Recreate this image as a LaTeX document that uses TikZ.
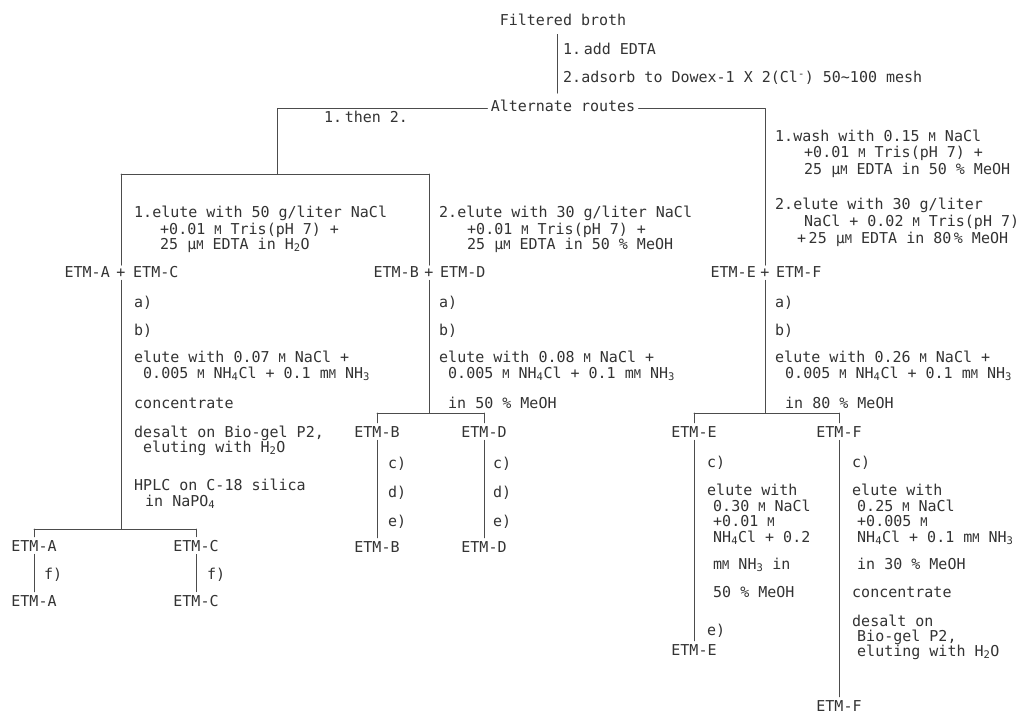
\documentclass[tikz,border=0pt]{standalone}
\usepackage{fontspec}
\newfontfamily\typew{DejaVu Sans Mono}
\newcommand\sM{{\fontsize{12}{12}\selectfont M}}
\begin{document}
\begin{tikzpicture}[x=1pt,y=-1pt,line join=round,line cap=round,
		txt/.style={anchor=base west,inner sep=0pt,yshift=-5pt,text=black!80,font=\typew\fontsize{15}{17}\selectfont},
		rgt/.style={txt,anchor=base east},
		lbl/.style={txt,anchor=base,inner sep=3pt},
		br/.style={draw=black!70,line width=0.7pt}]
	\useasboundingbox (0,0) rectangle (1022,714);
	\fill[white] (0,0) rectangle (1022,714);
	% top: broth and the two routes
	\node[lbl] (broth) at (563,21) {Filtered broth};
	\node[txt] (add1) at (563,50) {1.\,add EDTA};
	\node[txt] (add2) at (563,78) {2.adsorb to Dowex-1 X 2(Cl\textsuperscript{-}) 50\textasciitilde 100 mesh};
	\node[lbl] (routes) at (563,107) {Alternate routes};
	\node[txt] (then) at (324,118) {1.\,then 2.};
	\coordinate (cL) at (277,108); \coordinate (cR) at (765,108); \coordinate (jT) at (277,174);
	\coordinate (jL) at (121,174); \coordinate (jM) at (429,174);
	% left column (elution 1)
	\node[txt] (l1) at (134,213) {1.elute with 50 g/liter NaCl};
	\node[txt] (l2) at (160,229) {+0.01 \sM{} Tris(pH 7) +};
	\node[txt] (l3) at (160,244) {25 μ\sM{} EDTA in H\textsubscript{2}O};
	\node[rgt] (etmA0) at (110,272) {ETM-A};
	\node[lbl] (plusAC) at (121,272) {+};
	\node[txt] (etmC0) at (133,272) {ETM-C};
	\node[txt] (la) at (134,302) {a)};
	\node[txt] (lb) at (134,330) {b)};
	\node[txt] (lc1) at (134,357) {elute with 0.07 \sM{} NaCl +};
	\node[txt] (lc2) at (143,373) {0.005 \sM{} NH\textsubscript{4}Cl + 0.1 m\sM{} NH\textsubscript{3}};
	\node[txt] (ld) at (134,403) {concentrate};
	\node[txt] (le1) at (134,432) {desalt on Bio-gel P2,};
	\node[txt] (le2) at (143,447) {eluting with H\textsubscript{2}O};
	\node[txt] (lf1) at (134,485) {HPLC on C-18 silica};
	\node[txt] (lf2) at (145,501) {in NaPO\textsubscript{4}};
	\coordinate (bL) at (121,529); \coordinate (bA) at (34,529); \coordinate (bC) at (196,529);
	\node[lbl] (etmA1) at (34,546) {ETM-A};
	\node[txt] (fA) at (44,574) {f)};
	\node[lbl] (etmA2) at (34,601) {ETM-A};
	\node[lbl] (etmC1) at (196,546) {ETM-C};
	\node[txt] (fC) at (207,574) {f)};
	\node[lbl] (etmC2) at (196,601) {ETM-C};
	% middle column (elution 2)
	\node[txt] (m1) at (439,213) {2.elute with 30 g/liter NaCl};
	\node[txt] (m2) at (467,229) {+0.01 \sM{} Tris(pH 7) +};
	\node[txt] (m3) at (467,244) {25 μ\sM{} EDTA in 50 \% MeOH};
	\node[rgt] (etmB0) at (419,272) {ETM-B};
	\node[lbl] (plusBD) at (429,272) {+};
	\node[txt] (etmD0) at (440,272) {ETM-D};
	\node[txt] (ma) at (439,302) {a)};
	\node[txt] (mb) at (439,330) {b)};
	\node[txt] (mc1) at (439,357) {elute with 0.08 \sM{} NaCl +};
	\node[txt] (mc2) at (448,373) {0.005 \sM{} NH\textsubscript{4}Cl + 0.1 m\sM{} NH\textsubscript{3}};
	\node[txt] (md) at (448,403) {in 50 \% MeOH};
	\coordinate (bM) at (429,413); \coordinate (bB) at (377,413); \coordinate (bD) at (484,413);
	\node[lbl] (etmB1) at (377,432) {ETM-B};
	\node[txt] (cB) at (388,463) {c)};
	\node[txt] (dB) at (388,492) {d)};
	\node[txt] (eB) at (388,521) {e)};
	\node[lbl] (etmB2) at (377,547) {ETM-B};
	\node[lbl] (etmD1) at (484,432) {ETM-D};
	\node[txt] (cD) at (493,463) {c)};
	\node[txt] (dD) at (493,492) {d)};
	\node[txt] (eD) at (493,521) {e)};
	\node[lbl] (etmD2) at (484,547) {ETM-D};
	% right column (wash, then elution)
	\node[txt] (r1) at (775,137) {1.wash with 0.15 \sM{} NaCl};
	\node[txt] (r2) at (804,153) {+0.01 \sM{} Tris(pH 7) +};
	\node[txt] (r3) at (804,170) {25 μ\sM{} EDTA in 50 \% MeOH};
	\node[txt] (r4) at (775,205) {2.elute with 30 g/liter};
	\node[txt] (r5) at (804,221) {NaCl + 0.02 \sM{} Tris(pH 7)};
	\node[txt] (r6) at (797,238) {+\,25 μ\sM{} EDTA in 80\,\% MeOH};
	\node[rgt] (etmE0) at (756,272) {ETM-E};
	\node[lbl] (plusEF) at (765,272) {+};
	\node[txt] (etmF0) at (776,272) {ETM-F};
	\node[txt] (ra) at (775,302) {a)};
	\node[txt] (rb) at (775,330) {b)};
	\node[txt] (rc1) at (775,357) {elute with 0.26 \sM{} NaCl +};
	\node[txt] (rc2) at (785,373) {0.005 \sM{} NH\textsubscript{4}Cl + 0.1 m\sM{} NH\textsubscript{3}};
	\node[txt] (rd) at (785,403) {in 80 \% MeOH};
	\coordinate (bR) at (765,413); \coordinate (bE) at (694,413); \coordinate (bF) at (839,413);
	\node[lbl] (etmE1) at (694,432) {ETM-E};
	\node[txt] (cE) at (707,462) {c)};
	\node[txt] (e1) at (707,490) {elute with};
	\node[txt] (e2) at (713,506) {0.30 \sM{} NaCl};
	\node[txt] (e3) at (713,521) {+0.01 \sM};
	\node[txt] (e4) at (713,537) {NH\textsubscript{4}Cl + 0.2};
	\node[txt] (e5) at (713,564) {m\sM{} NH\textsubscript{3} in};
	\node[txt] (e6) at (713,592) {50 \% MeOH};
	\node[txt] (eE) at (707,630) {e)};
	\node[lbl] (etmE2) at (694,650) {ETM-E};
	\node[lbl] (etmF1) at (839,432) {ETM-F};
	\node[txt] (cF) at (852,462) {c)};
	\node[txt] (f1) at (852,490) {elute with};
	\node[txt] (f2) at (857,506) {0.25 \sM{} NaCl};
	\node[txt] (f3) at (857,521) {+0.005 \sM};
	\node[txt] (f4) at (857,537) {NH\textsubscript{4}Cl + 0.1 m\sM{} NH\textsubscript{3}};
	\node[txt] (f5) at (857,564) {in 30 \% MeOH};
	\node[txt] (f6) at (852,592) {concentrate};
	\node[txt] (f7) at (852,621) {desalt on};
	\node[txt] (f8) at (857,636) {Bio-gel P2,};
	\node[txt] (f9) at (857,651) {eluting with H\textsubscript{2}O};
	\node[lbl] (etmF2) at (839,706) {ETM-F};
	% connectors
	\draw[br] ([xshift=-6pt,yshift=-5pt]broth.south) -- ([xshift=-6pt,yshift=4pt]routes.north);
	\draw[br] (routes.west |- cL) -- (cL) -- (jT);
	\draw[br] (routes.east |- cR) -- (cR) -- (plusEF.north);
	\draw[br] (jL) -- (jM) (jL) -- (plusAC.north) (jM) -- (plusBD.north);
	\draw[br] (plusAC.south) -- (bL) (bA) -- (bC);
	\draw[br] (bA) -- (etmA1.north) (etmA1.south) -- (etmA2.north);
	\draw[br] (bC) -- (etmC1.north) (etmC1.south) -- (etmC2.north);
	\draw[br] (plusBD.south) -- (bM) (bB) -- (bD);
	\draw[br] (bB) -- (etmB1.north) (etmB1.south) -- (etmB2.north);
	\draw[br] (bD) -- (etmD1.north) (etmD1.south) -- (etmD2.north);
	\draw[br] (plusEF.south) -- (bR) (bE) -- (bF);
	\draw[br] (bE) -- (etmE1.north) (etmE1.south) -- (etmE2.north);
	\draw[br] (bF) -- (etmF1.north) (etmF1.south) -- (etmF2.north);
\end{tikzpicture}
\end{document}
